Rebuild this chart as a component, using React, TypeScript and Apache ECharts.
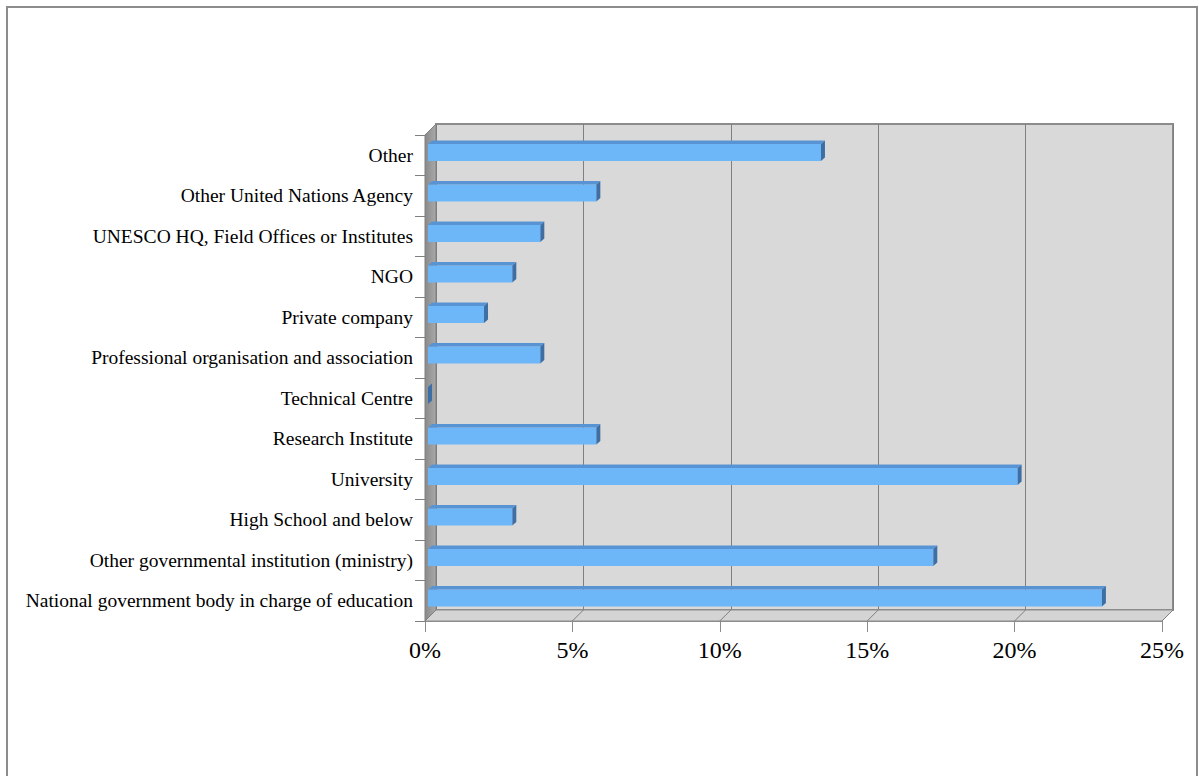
import React, { useEffect, useRef } from "react";
import * as echarts from "echarts";

const categories = [
  "Other",
  "Other United Nations Agency",
  "UNESCO HQ, Field Offices or Institutes",
  "NGO",
  "Private company",
  "Professional organisation and association",
  "Technical Centre",
  "Research Institute",
  "University",
  "High School and below",
  "Other governmental institution (ministry)",
  "National government body in charge of education",
];
const shares = [13.33, 5.71, 3.81, 2.86, 1.9, 3.81, 0, 5.71, 20, 2.86, 17.14, 22.86];
const xTicks = [0, 5, 10, 15, 20, 25];

const FONT = '"Liberation Serif", "Times New Roman", serif';
const DX = 11;
const DY = -11;

export default function App() {
  const ref = useRef<HTMLDivElement>(null);
  useEffect(() => {
    if (!ref.current) return;
    const chart = echarts.init(ref.current, null, { renderer: "svg" });
    const option: any = {
      animation: false,
      backgroundColor: "#ffffff",
      graphic: [
        {
          type: "rect",
          z: -10,
          shape: { x: 7, y: 7, width: 1190, height: 800 },
          style: { fill: "none", stroke: "#8c8c8c", lineWidth: 2 },
        },
      ],
      grid: [
        { left: 425, top: 135, width: 737, height: 486, show: false },
        {
          left: 425 + DX,
          top: 135 + DY,
          width: 737,
          height: 486,
          show: true,
          backgroundColor: "#d9d9d9",
          borderColor: "#8c8c8c",
          borderWidth: 2,
        },
      ],
      xAxis: [
        {
          gridIndex: 0,
          type: "value",
          min: 0,
          max: 25,
          interval: 5,
          axisLine: { show: true, lineStyle: { color: "#8c8c8c" } },
          axisTick: { show: true, length: 11, lineStyle: { color: "#8c8c8c" } },
          splitLine: { show: false },
          axisLabel: {
            formatter: "{value}%",
            fontSize: 24,
            color: "#000",
            fontFamily: FONT,
            margin: 17,
          },
        },
        {
          gridIndex: 1,
          type: "value",
          min: 0,
          max: 25,
          interval: 5,
          axisLine: { show: false },
          axisTick: { show: false },
          axisLabel: { show: false },
          splitLine: { show: true, lineStyle: { color: "#7f7f7f", width: 1 } },
        },
      ],
      yAxis: [
        {
          gridIndex: 0,
          type: "category",
          data: categories,
          inverse: true,
          axisLine: { show: true, lineStyle: { color: "#7f7f7f" } },
          axisTick: { show: true, length: 10, lineStyle: { color: "#7f7f7f" } },
          splitLine: { show: false },
          axisLabel: {
            fontSize: 19.5,
            color: "#000",
            fontFamily: FONT,
            margin: 12,
          },
        },
        { gridIndex: 1, type: "value", show: false },
      ],
      series: [
        {
          type: "custom",
          name: "frame",
          xAxisIndex: 0,
          yAxisIndex: 0,
          z: 1,
          silent: true,
          data: xTicks.map((v) => [v, 0]),
          encode: { x: 0, y: 1 },
          renderItem: (params: any, api: any) => {
            const cs = params.coordSys;
            const bottom = cs.y + cs.height;
            const top = cs.y;
            const left = cs.x;
            const right = cs.x + cs.width;
            const p = api.coord([api.value(0), 0]);
            const children: any[] = [];
            if (params.dataIndex === 0) {
              children.push({
                type: "polygon",
                shape: {
                  points: [
                    [left, bottom],
                    [left + DX, bottom + DY],
                    [right + DX, bottom + DY],
                    [right, bottom],
                  ],
                },
                style: { fill: "#d4d4d4", stroke: "#8c8c8c", lineWidth: 1 },
              });
              children.push({
                type: "polygon",
                shape: {
                  points: [
                    [left, top],
                    [left + DX, top + DY],
                    [left + DX, bottom + DY],
                    [left, bottom],
                  ],
                },
                style: {
                  fill: new echarts.graphic.LinearGradient(0, 0, 1, 0, [
                    { offset: 0, color: "#8a8a8a" },
                    { offset: 1, color: "#a9a9a9" },
                  ]),
                  stroke: "#7f7f7f",
                  lineWidth: 1,
                },
              });
            }
            children.push({
              type: "line",
              shape: { x1: p[0], y1: bottom, x2: p[0] + DX, y2: bottom + DY },
              style: { stroke: "#7f7f7f", lineWidth: 1 },
            });
            return { type: "group", children };
          },
        },
        {
          type: "custom",
          name: "share",
          xAxisIndex: 0,
          yAxisIndex: 0,
          z: 3,
          data: shares.map((v, i) => [v, i]),
          encode: { x: 0, y: 1 },
          renderItem: (params: any, api: any) => {
            const v = api.value(0);
            const idx = api.value(1);
            const base = api.coord([0, idx]);
            const end = api.coord([v, idx]);
            const band = api.size([0, 1])[1];
            const x0 = base[0] + 3;
            const x1 = end[0] + 3;
            const yc = base[1];
            const fy0 = yc - 0.278 * band;
            const fy1 = yc + 0.142 * band;
            const dx = 4;
            const dy = -3.5;
            return {
              type: "group",
              children: [
                {
                  type: "rect",
                  shape: { x: x0, y: fy0, width: x1 - x0, height: fy1 - fy0 },
                  style: { fill: "#6db6f7" },
                },
                {
                  type: "polygon",
                  shape: {
                    points: [
                      [x0, fy0],
                      [x0 + dx, fy0 + dy],
                      [x1 + dx, fy0 + dy],
                      [x1, fy0],
                    ],
                  },
                  style: { fill: "#5894d4" },
                },
                {
                  type: "polygon",
                  shape: {
                    points: [
                      [x1, fy0],
                      [x1 + dx, fy0 + dy],
                      [x1 + dx, fy1 + dy],
                      [x1, fy1],
                    ],
                  },
                  style: { fill: "#3d6ea6" },
                },
              ],
            };
          },
        },
      ],
    };
    chart.setOption(option);
    return () => chart.dispose();
  }, []);
  return (
    <div
      ref={ref}
      style={{ position: "absolute", left: 0, top: 0, width: 1199, height: 776, background: "#fff" }}
    />
  );
}
